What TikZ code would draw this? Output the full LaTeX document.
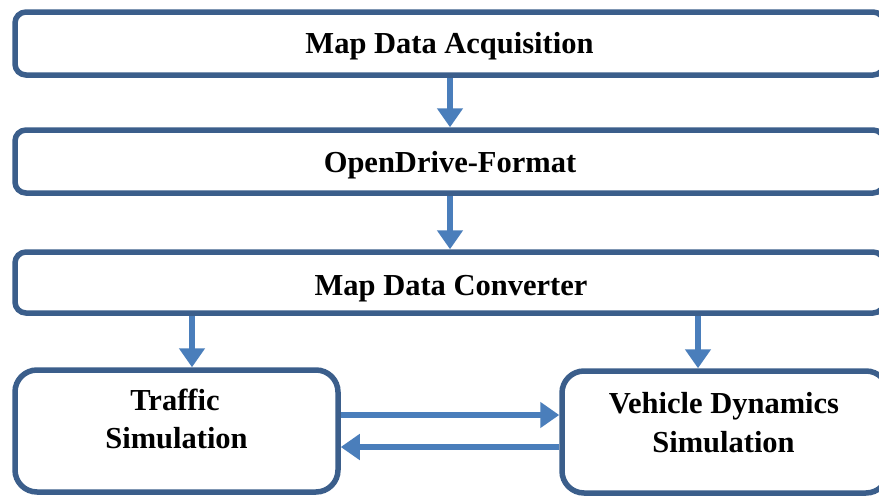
\documentclass[tikz,border=0pt]{standalone}
\usepackage{fontspec}
\setmainfont{Liberation Serif}
\usetikzlibrary{arrows.meta}
\definecolor{boxc}{RGB}{59,94,139}
\definecolor{arrc}{RGB}{74,126,187}
\begin{document}
\begin{tikzpicture}[x=1pt,y=-1pt,
  boxn/.style={draw=boxc, line width=5.5pt, rounded corners=#1, inner sep=0pt, rectangle},
  lbl/.style={anchor=base, inner sep=0pt, font=\fontsize{30.5}{38}\selectfont\bfseries},
  arr/.style={draw=arrc, line width=6.5pt, -{Triangle[width=25pt,length=19pt]}}]
\useasboundingbox (0,0) rectangle (879,496);
\clip (0,0) rectangle (879,496);
\fill[white] (0,0) rectangle (879,496);
% boxes
\node[boxn=11pt, minimum width=869pt, minimum height=63pt] (b1) at (449.5,43.5) {};
\node[boxn=11pt, minimum width=869pt, minimum height=63pt] (b2) at (449.5,161.5) {};
\node[boxn=11pt, minimum width=869pt, minimum height=61pt] (b3) at (449.5,282.5) {};
\node[boxn=22pt, minimum width=323pt, minimum height=122pt] (b4) at (176.5,431) {};
\node[boxn=22pt, minimum width=326pt, minimum height=122pt] (b5) at (725,432) {};
% labels
\node[lbl] (t1) at (449.5,53) {Map Data Acquisition};
\node[lbl] (t2) at (450,172) {OpenDrive-Format};
\node[lbl] (t3) at (451,295) {Map Data Converter};
\node[lbl] (t4a) at (175,410) {Traffic};
\node[lbl] (t4b) at (176.5,448) {Simulation};
\node[lbl] (t5a) at (724,413) {Vehicle Dynamics};
\node[lbl] (t5b) at (723.5,452) {Simulation};
% arrows
\draw[arr] (b1.south -| 450,0) -- (b2.north -| 450,0);
\draw[arr] (b2.south -| 450,0) -- (b3.north -| 450,0);
\draw[arr] (b3.south -| 192,0) -- (b4.north -| 192,0);
\draw[arr] (b3.south -| 698,0) -- (b5.north -| 698,0);
\draw[arr] (b4.east |- 0,415) -- (b5.west |- 0,415);
\draw[arr] (b5.west |- 0,447) -- (b4.east |- 0,447);
\end{tikzpicture}
\end{document}
